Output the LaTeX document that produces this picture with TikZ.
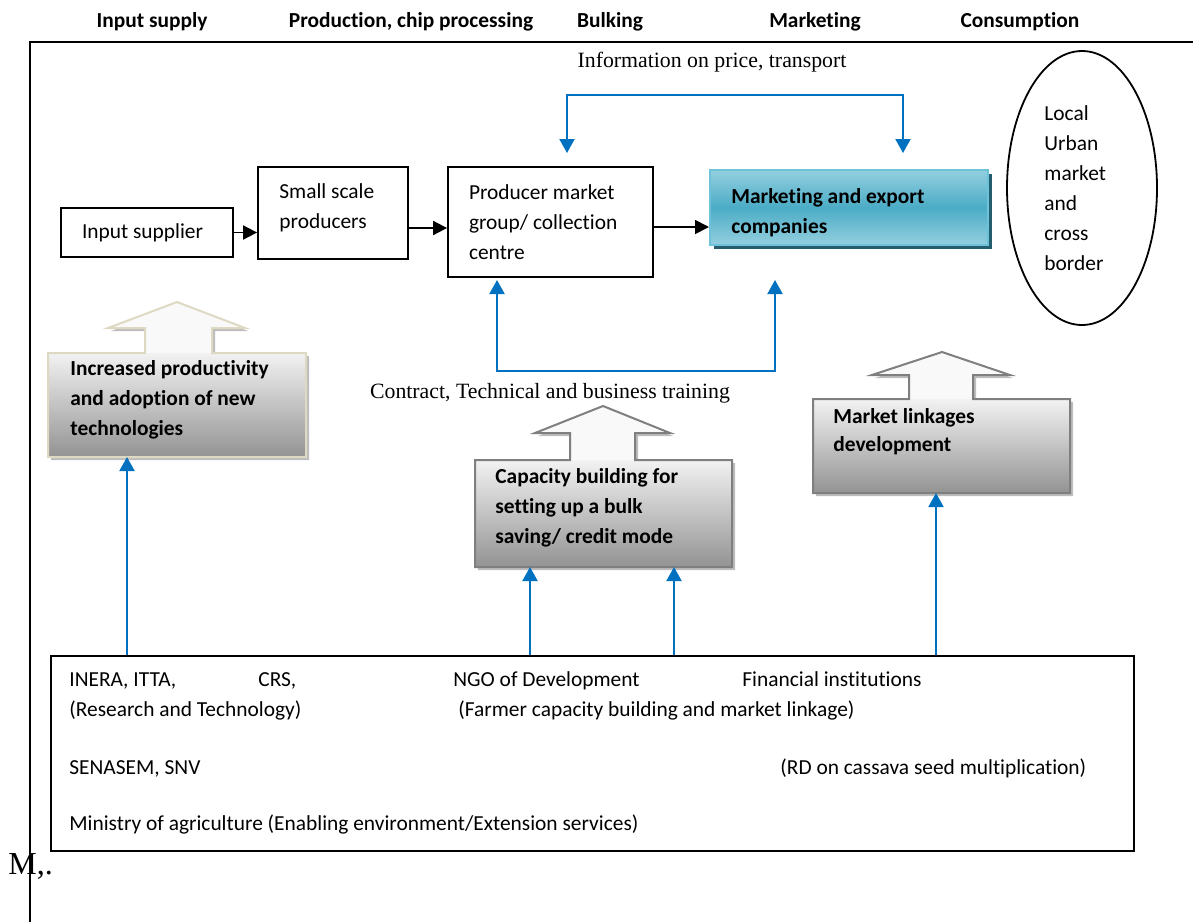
\documentclass[tikz,border=0pt]{standalone}
\usepackage{fontspec}
\setmainfont{Carlito}[Ligatures=NoCommon]
\newfontfamily\timesfont{Liberation Serif}
\usetikzlibrary{arrows.meta,shapes.geometric,shadows}
\definecolor{linkblue}{HTML}{0070C0}
\definecolor{mktlight}{HTML}{93CFDF}
\definecolor{mktmid}{HTML}{4BACC6}
\definecolor{mktedge}{HTML}{6CC3D9}
\definecolor{mktshade}{HTML}{245E6E}
\definecolor{beige}{HTML}{DDD9C3}
\definecolor{greyedge}{HTML}{7F7F7F}
\definecolor{boxtop}{HTML}{F2F2F2}
\definecolor{boxbot}{HTML}{939393}
\definecolor{headfill}{HTML}{F9F9F9}
\definecolor{callshadow}{HTML}{BDBDBD}

% outlines of the three up-arrow callouts (pixel grid, y downwards)
\def\incshape{(48,457) -- (48,353) -- (145,353) -- (145,328) -- (108,328) -- (177,302) -- (245,328) -- (212,328) -- (212,353) -- (306,353) -- (306,457) -- cycle}
\def\capshape{(475,567) -- (475,460) -- (570,460) -- (570,433) -- (535,433) -- (603,406) -- (670,433) -- (635,433) -- (635,460) -- (732,460) -- (732,567) -- cycle}
\def\mlkshape{(813,493) -- (813,399) -- (909,399) -- (909,375) -- (872,375) -- (942,352) -- (1010,375) -- (973,375) -- (973,399) -- (1070,399) -- (1070,493) -- cycle}

\begin{document}
\begin{tikzpicture}[x=0.5pt,y=-0.5pt,
  every node/.style={font=\fontsize{10.7}{15}\selectfont},
  header/.style={font=\bfseries\fontsize{10.7}{15}\selectfont, anchor=base},
  serifnote/.style={font=\timesfont\fontsize{10.9}{12}\selectfont},
  stagebox/.style={draw=black, line width=0.9pt, align=flush left, inner xsep=10.5pt, inner ysep=0pt},
  mktbox/.style={draw=mktedge, line width=1pt, inner sep=0pt,
    top color=mktlight, bottom color=mktlight, middle color=mktmid,
    drop shadow={shadow xshift=2pt, shadow yshift=-2pt, fill=mktshade, opacity=1}},
  boxtext/.style={align=flush left, anchor=west, inner sep=0pt},
  calltext/.style={font=\bfseries\fontsize{10.7}{15}\selectfont, align=flush left, anchor=west, inner sep=0pt},
  bodytext/.style={anchor=base west, inner sep=0pt},
  flow/.style={line width=0.9pt, >={Triangle[length=7pt,width=7pt]}, ->},
  link/.style={draw=linkblue, line width=1pt, >={Triangle[length=7pt,width=7.5pt]}},
]
\useasboundingbox (0,0) rectangle (1193,922);

% stage headings
\node[header] at (152,27) {Input supply};
\node[header] at (411,27) {Production, chip processing};
\node[header] at (610,27) {Bulking};
\node[header] at (815,27) {Marketing};
\node[header] at (1020,27) {Consumption};

% outer frame
\draw[line width=1pt] (1193,42) -- (30,42) -- (30,922);

% value chain stages
\node[stagebox, text width=65pt, minimum height=24.5pt] (inp) at (147,232.5) {Input supplier};
\node[stagebox, minimum width=75pt, minimum height=46pt] (small) at (333,213) {};
\node[boxtext] (smalltext) at (279,208) {Small scale\\producers};
\node[stagebox, text width=81.5pt, minimum height=55pt] (prod) at (550.5,222) {Producer market\\group/ collection\\centre};
\node[mktbox, minimum width=139pt, minimum height=37.5pt] (mkt) at (849,207.5) {};
\node[calltext] (mkttext) at (731,213) {Marketing and export\\companies};

\node[draw=black, line width=0.9pt, ellipse, minimum width=75pt, minimum height=137pt, inner sep=0pt] (cons) at (1082,188) {};
\node[boxtext] (constext) at (1044,188) {Local\\Urban\\market\\and\\cross\\border};

\draw[flow] (inp.east) -- (inp.east -| small.west);
\draw[flow] ([yshift=-7.5pt]small.east) -- ([yshift=-7.5pt]small.east -| prod.west);
\draw[flow] ([yshift=-2.5pt]prod.east) -- ([yshift=-2.5pt]prod.east -| mkt.west);

% information loop above the chain
\node[serifnote] (info) at (712,62) {Information on price, transport};
\coordinate (infoL) at (567,153);
\coordinate (infoR) at (903,153);
\draw[link,<->] (infoL) -- ++(0,-58) -| (infoR);

% training loop below the chain
\coordinate (trainL) at (497,280);
\coordinate (trainR) at (775,280);
\draw[link,<->] (trainL) -- ++(0,91) -| (trainR);
\node[serifnote] (train) at (550,393) {Contract, Technical and business training};

% callout: productivity
\fill[callshadow, shift={(3,3)}] \incshape;
\fill[headfill] \incshape;
\shade[top color=boxtop, bottom color=boxbot] (48,353) rectangle (306,457);
\draw[draw=beige, line width=1pt] \incshape;
\node[calltext] (inc) at (70,400) {Increased productivity\\and adoption of new\\technologies};

% callout: capacity building
\fill[callshadow, shift={(3,3)}] \capshape;
\fill[headfill] \capshape;
\shade[top color=boxtop, bottom color=boxbot] (475,460) rectangle (732,567);
\draw[draw=greyedge, line width=1pt] \capshape;
\node[calltext] (cap) at (495,508) {Capacity building for\\setting up a bulk\\saving/ credit mode};

% callout: market linkages
\fill[callshadow, shift={(3,3)}] \mlkshape;
\fill[headfill] \mlkshape;
\shade[top color=boxtop, bottom color=boxbot] (813,399) rectangle (1070,493);
\draw[draw=greyedge, line width=1pt] \mlkshape;
\node[calltext] (mlk) at (833,432) {Market linkages\\[-1pt]development};

% actors
\node[draw=black, line width=1pt, minimum width=541.5pt, minimum height=97.5pt, inner sep=0pt, anchor=north west] (actors) at (50,655) {};
\node[bodytext] at (69,686) {INERA, ITTA,};
\node[bodytext] at (258,686) {CRS,};
\node[bodytext] at (453,686) {NGO of Development};
\node[bodytext] at (742,686) {Financial institutions};
\node[bodytext] at (69,716) {(Research and Technology)};
\node[bodytext] at (458,716) {(Farmer capacity building and market linkage)};
\node[bodytext] at (69,774) {SENASEM, SNV};
\node[bodytext] at (780,774) {(RD on cassava seed multiplication)};
\node[bodytext] at (69,830) {Ministry of agriculture (Enabling environment/Extension services)};

% support arrows from the actors
\coordinate (incIn) at (127,457);
\coordinate (capInA) at (530,567);
\coordinate (capInB) at (674,567);
\coordinate (mlkIn) at (936,493);
\draw[link,->] (actors.north -| incIn) -- (incIn);
\draw[link,->] (actors.north -| capInA) -- (capInA);
\draw[link,->] (actors.north -| capInB) -- (capInB);
\draw[link,->] (actors.north -| mlkIn) -- (mlkIn);

\node[font=\timesfont\fontsize{16}{18}\selectfont, anchor=base west, inner sep=0pt] (mark) at (8,874) {M,.};
\end{tikzpicture}
\end{document}
